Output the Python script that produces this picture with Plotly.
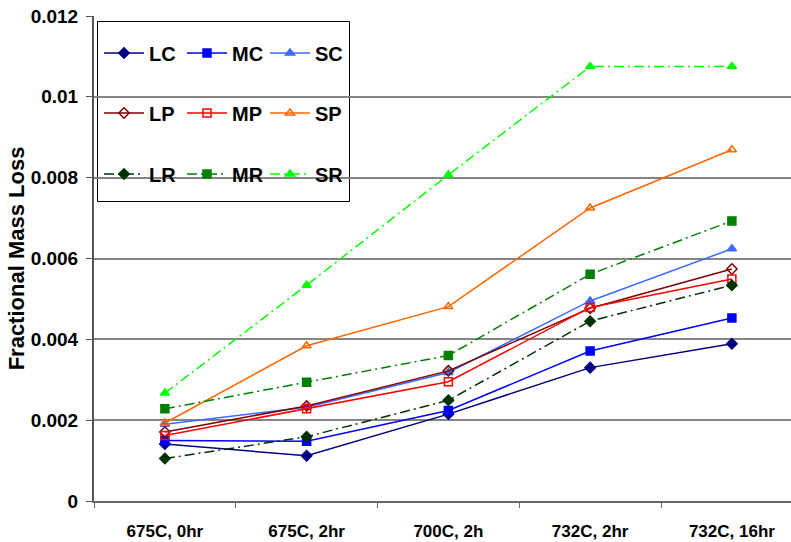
import plotly.graph_objects as go

categories = ["675C, 0hr", "675C, 2hr", "700C, 2h", "732C, 2hr", "732C, 16hr"]

LC = [0.00141, 0.00112, 0.00215, 0.00330, 0.00389]
MC = [0.00150, 0.00148, 0.00224, 0.00371, 0.00453]
SC = [0.00190, 0.00232, 0.00318, 0.00495, 0.00624]
LP = [0.00171, 0.00235, 0.00322, 0.00477, 0.00574]
MP = [0.00162, 0.00228, 0.00295, 0.00479, 0.00549]
SP = [0.00193, 0.00384, 0.00481, 0.00725, 0.00869]
LR = [0.00105, 0.00159, 0.00249, 0.00445, 0.00534]
MR = [0.00228, 0.00294, 0.00360, 0.00561, 0.00693]
SR = [0.00267, 0.00534, 0.00807, 0.01075, 0.01075]

DD = "10px,4px,2px,4px"
series = [
    ("LC", LC, "#000080", "diamond", "solid", "legend"),
    ("MC", MC, "#0000FF", "square", "solid", "legend"),
    ("SC", SC, "#3D6BFF", "triangle-up", "solid", "legend"),
    ("LP", LP, "#800000", "diamond-open", "solid", "legend2"),
    ("MP", MP, "#FF0000", "square-open", "solid", "legend2"),
    ("SP", SP, "#FF6600", "triangle-up-open", "solid", "legend2"),
    ("LR", LR, "#003300", "diamond", DD, "legend3"),
    ("MR", MR, "#008000", "square", DD, "legend3"),
    ("SR", SR, "#00FF00", "triangle-up", DD, "legend3"),
]

FONT = "Liberation Sans, Arial, sans-serif"

fig = go.Figure()
for name, vals, color, sym, dash, leg in series:
    fig.add_trace(go.Scatter(
        x=categories, y=vals, name=name, mode="lines+markers",
        line=dict(color=color, width=1.5, dash=dash),
        marker=dict(symbol=sym, size=8, color=color,
                    line=dict(color=color, width=1.5)),
        legend=leg,
    ))

W, H = 791, 542
L, R, T, B = 94, 0, 16, 41
pw, ph = W - L - R, H - T - B

def px_x(p):
    return (p - L) / pw

def px_y(p):
    return (H - B - p) / ph

legend_common = dict(
    orientation="h", xanchor="left", yanchor="middle",
    bgcolor="rgba(0,0,0,0)", borderwidth=0,
    font=dict(family=FONT, size=20, color="black", weight="bold"),
    entrywidth=28, entrywidthmode="pixels", itemwidth=40,
    x=px_x(99),
)

fig.update_layout(
    width=W, height=H,
    margin=dict(l=L, r=R, t=T, b=B, autoexpand=False),
    paper_bgcolor="white", plot_bgcolor="white",
    showlegend=True,
    legend=dict(**legend_common, y=px_y(53)),
    legend2=dict(**legend_common, y=px_y(113)),
    legend3=dict(**legend_common, y=px_y(174)),
    shapes=[dict(type="rect", xref="paper", yref="paper",
                 x0=px_x(97.5), x1=px_x(349.5), y0=px_y(201.5), y1=px_y(21.5),
                 fillcolor="white", line=dict(color="black", width=1),
                 layer="between")],
    xaxis=dict(
        type="category", range=[-0.5, (W - L) / 141.75 - 0.5],
        showgrid=False, showline=True, linecolor="#666666", linewidth=2,
        ticks="outside", tickson="boundaries", ticklen=5, tickcolor="#666666",
        tickfont=dict(family=FONT, size=17, color="black", weight="bold"),
        ticklabelstandoff=14, automargin=False,
    ),
    yaxis=dict(
        range=[0, 0.012], dtick=0.002, tick0=0,
        showgrid=True, gridcolor="#858585", gridwidth=1.6,
        zeroline=False, showline=True, linecolor="#555555", linewidth=2,
        ticks="outside", ticklen=6, tickcolor="#555555",
        tickfont=dict(family=FONT, size=19, color="black", weight="bold"),
        ticklabelstandoff=4, automargin=False,
        title=dict(text="Fractional Mass Loss", standoff=0,
                   font=dict(family=FONT, size=22, color="black", weight="bold")),
    ),
)

fig.write_html("out.html")
